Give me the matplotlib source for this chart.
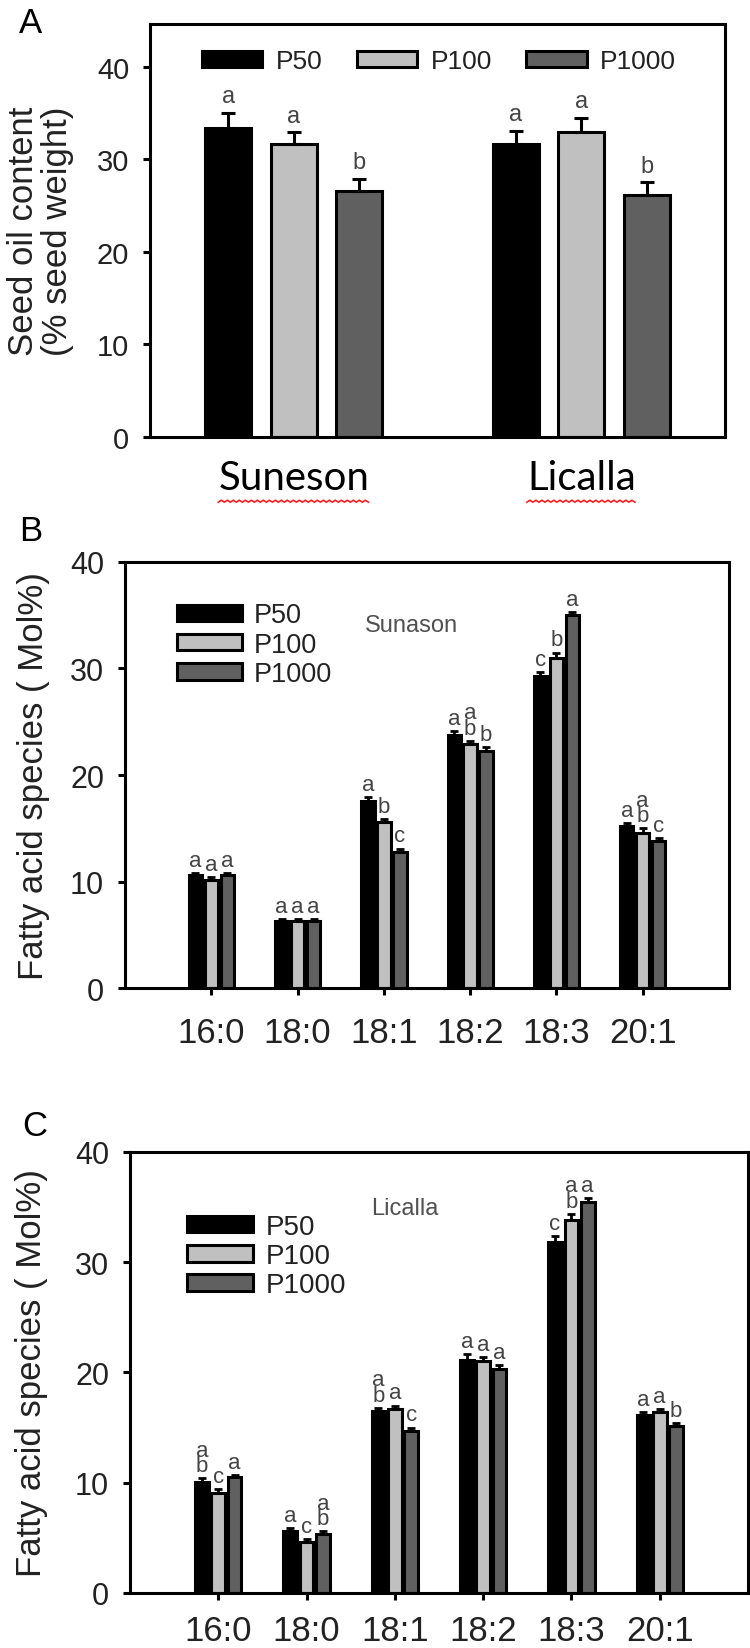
import numpy as np
import matplotlib
matplotlib.use("Agg")
from matplotlib import pyplot as plt
from matplotlib.lines import Line2D
from matplotlib.transforms import IdentityTransform

plt.rcParams["font.family"] = ["Liberation Sans", "DejaVu Sans"]

# panel A: seed oil content
cultivars = ["Suneson", "Licalla"]
oil_p50 = [33.4, 31.6]
oil_p50_err = [1.6, 1.5]
oil_p100 = [31.6, 32.9]
oil_p100_err = [1.3, 1.6]
oil_p1000 = [26.6, 26.1]
oil_p1000_err = [1.3, 1.4]
oil_letters = [["a", "a"], ["a", "a"], ["b", "b"]]

# panels B and C: fatty acid species
fatty_acids = ["16:0", "18:0", "18:1", "18:2", "18:3", "20:1"]
sun_p50 = [10.6, 6.3, 17.6, 23.8, 29.3, 15.2]
sun_p100 = [10.1, 6.3, 15.6, 22.9, 31.0, 14.6]
sun_p1000 = [10.6, 6.3, 12.8, 22.3, 35.0, 13.8]
sun_err = [[0.2, 0.2, 0.3, 0.3, 0.4, 0.3],
           [0.3, 0.2, 0.3, 0.3, 0.5, 0.4],
           [0.2, 0.2, 0.3, 0.3, 0.3, 0.3]]
sun_letters = [["a", "a", "a", "a", "c", "a"],
               ["a", "a", "b", "a\nb", "b", "a\nb"],
               ["a", "a", "c", "b", "a", "c"]]

lic_p50 = [10.1, 5.6, 16.5, 21.1, 31.8, 16.1]
lic_p100 = [9.1, 4.6, 16.7, 21.0, 33.8, 16.4]
lic_p1000 = [10.5, 5.3, 14.7, 20.3, 35.5, 15.1]
lic_err = [[0.3, 0.3, 0.3, 0.6, 0.6, 0.3],
           [0.3, 0.3, 0.3, 0.4, 0.6, 0.3],
           [0.2, 0.3, 0.3, 0.4, 0.3, 0.3]]
lic_letters = [["a\nb", "a", "a\nb", "a", "c", "a"],
               ["c", "c", "a", "a", "a\nb", "a"],
               ["a", "a\nb", "c", "a", "a", "b"]]

treatments = ["P50", "P100", "P1000"]
colors = ["black", "#c0c0c0", "#606060"]
txt = "#222222"
letter_col = "#444444"

fig = plt.figure(figsize=(7.5, 16.49), dpi=100)
axA = fig.add_axes([0.200, 0.7344, 0.7667, 0.2504])
axB = fig.add_axes([0.1667, 0.4002, 0.8053, 0.2584])
axC = fig.add_axes([0.1733, 0.0334, 0.8240, 0.2674])

for ax in (axA, axB, axC):
    for s in ax.spines.values():
        s.set_linewidth(2.2)

# ---- panel A
x = np.arange(len(cultivars))
vals = [oil_p50, oil_p100, oil_p1000]
errs = [oil_p50_err, oil_p100_err, oil_p1000_err]
offs = [-0.228, 0, 0.228]
handles = []
for i in range(3):
    b = axA.bar(x + offs[i], vals[i], 0.16, color=colors[i], edgecolor="black",
                linewidth=2.2, label=treatments[i], zorder=2)
    handles.append(b)
    axA.errorbar(x + offs[i], vals[i], yerr=[np.zeros(2), errs[i]], fmt="none",
                 ecolor="black", elinewidth=2.2, capsize=5, capthick=2.2, zorder=3)
    for j in range(len(cultivars)):
        axA.text(x[j] + offs[i], vals[i][j] + errs[i][j] + 0.6, oil_letters[i][j],
                 ha="center", va="bottom", fontsize=17, color=letter_col)
axA.set_xlim(-0.5, 1.5)
axA.set_ylim(0, 44.6)
axA.set_yticks([0, 10, 20, 30, 40])
axA.set_xticks(x)
axA.set_xticklabels(cultivars, fontsize=29, family=["Lato", "DejaVu Sans"], color="black")
axA.tick_params(axis="x", length=0, pad=16)
axA.tick_params(axis="y", direction="out", length=5, width=2.2, labelsize=21,
                labelcolor=txt, pad=10)
axA.set_ylabel("Seed oil content\n(% seed weight)", fontsize=25, color=txt,
               va="center", linespacing=1.05)
axA.yaxis.set_label_coords(-0.19, 0.5)
axA.legend(handles=handles, loc="center left", bbox_to_anchor=(0.09, 0.91), ncol=3,
           frameon=False, fontsize=19, handlelength=2.3, handleheight=0.6,
           handletextpad=0.5, columnspacing=1.3, borderpad=0, borderaxespad=0,
           labelcolor=txt)
axA.text(-0.228, 1.005, "A", transform=axA.transAxes, fontsize=25, ha="left", va="center")


def fatty_panel(ax, p50, p100, p1000, err, letters, name, name_xy, leg_anchor, lsize,
                xpad):
    xs = np.arange(1, len(fatty_acids) + 1)
    series = [p50, p100, p1000]
    offs = [-0.185, 0, 0.185]
    hs = []
    for i in range(3):
        b = ax.bar(xs + offs[i], series[i], 0.155, color=colors[i], edgecolor="black",
                   linewidth=2.2, label=treatments[i], zorder=2)
        hs.append(b)
        ax.errorbar(xs + offs[i], series[i], yerr=[np.zeros(len(xs)), err[i]],
                    fmt="none", ecolor="black", elinewidth=2, capsize=3, capthick=2,
                    zorder=3)
        for j in range(len(xs)):
            ax.text(xs[j] + offs[i], series[i][j] + err[i][j] + 0.2, letters[i][j],
                    ha="center", va="bottom", fontsize=16, color=letter_col,
                    linespacing=0.65)
    ax.set_xlim(0, 7)
    ax.set_ylim(0, 40)
    ax.set_yticks([0, 10, 20, 30, 40])
    ax.set_xticks(xs)
    ax.set_xticklabels(fatty_acids)
    ax.tick_params(axis="x", direction="out", length=5, width=2.2, labelsize=25,
                   labelcolor=txt, pad=xpad)
    ax.tick_params(axis="y", direction="out", length=5, width=2.2, labelsize=22,
                   labelcolor=txt, pad=10)
    ax.set_ylabel("Fatty acid species ( Mol%)", fontsize=25, color=txt, va="center")
    ax.legend(handles=hs, loc="upper left", bbox_to_anchor=leg_anchor, frameon=False,
              fontsize=lsize, handlelength=2.4, handleheight=0.55, labelspacing=0.12,
              handletextpad=0.45, borderpad=0, borderaxespad=0, labelcolor=txt)
    ax.text(name_xy[0], name_xy[1], name, transform=ax.transAxes, fontsize=17,
            color="#505050", ha="center", va="center")


fatty_panel(axB, sun_p50, sun_p100, sun_p1000, sun_err, sun_letters, "Sunason",
            (0.475, 0.852), (0.086, 0.905), 19.5, 15)
axB.yaxis.set_label_coords(-0.152, 0.5)
axB.text(-0.175, 1.075, "B", transform=axB.transAxes, fontsize=25, ha="left", va="center")

fatty_panel(axC, lic_p50, lic_p100, lic_p1000, lic_err, lic_letters, "Licalla",
            (0.445, 0.873), (0.092, 0.86), 20, 10)
axC.yaxis.set_label_coords(-0.159, 0.5)
axC.text(-0.175, 1.061, "C", transform=axC.transAxes, fontsize=25, ha="left", va="center")

# red spell-check squiggle under the cultivar names
fig.canvas.draw()
renderer = fig.canvas.get_renderer()
for lab in axA.get_xticklabels():
    bb = lab.get_window_extent(renderer)
    zx = np.arange(bb.x0, bb.x1, 3.0)
    zy = bb.y0 - 6 + 2.0 * (np.arange(len(zx)) % 2)
    fig.add_artist(Line2D(zx, zy, transform=IdentityTransform(), color="#ff2020",
                          linewidth=1.2))

fig.savefig("out.png", dpi=100)
